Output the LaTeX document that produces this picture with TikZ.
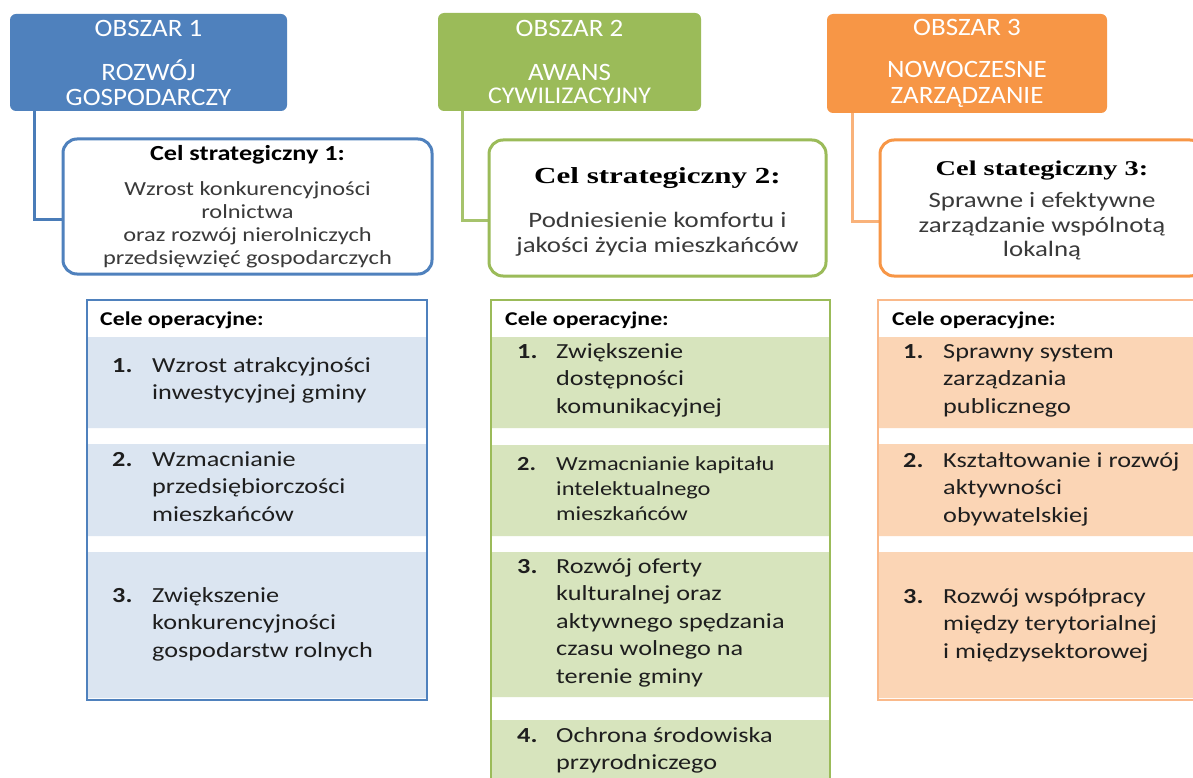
\documentclass[tikz,border=0pt]{standalone}
\usepackage{fontspec}
\setmainfont{Carlito}[FakeStretch=1.22]
\newfontfamily\hdrfont{Carlito}[FakeStretch=1.08]
\newfontfamily\serfont{Liberation Serif}[FakeStretch=1.35]
\definecolor{bl}{HTML}{4F81BD}
\definecolor{blconn}{HTML}{4A7CB8}
\definecolor{blband}{HTML}{DBE5F1}
\definecolor{gr}{HTML}{9BBB59}
\definecolor{grconn}{HTML}{A6C36C}
\definecolor{grband}{HTML}{D7E4BD}
\definecolor{or}{HTML}{F79646}
\definecolor{orconn}{HTML}{F9B27A}
\definecolor{orframe}{HTML}{FAB98A}
\definecolor{orband}{HTML}{FBD5B5}
\definecolor{bodytext}{HTML}{3A3A3A}
\definecolor{itemtext}{HTML}{1E1E1E}
\pgfdeclarelayer{bglayer}
\pgfdeclarelayer{bandlayer}
\pgfsetlayers{bglayer,bandlayer,main}
\tikzset{
  hdr/.style={rounded corners=6pt, inner sep=0pt, text=white, align=center,
    font=\hdrfont\fontsize{25}{25}\selectfont},
  strat/.style={draw, line width=3pt, rounded corners=14pt, fill=white, inner sep=0pt,
    align=center, text=bodytext},
  opframe/.style={draw, line width=1.6pt, inner sep=0pt},
  ophead/.style={anchor=base west, inner sep=0pt, text=black,
    font=\bfseries\fontsize{19.5}{24}\selectfont},
  item/.style={anchor=base west, inner sep=0pt, text=itemtext,
    font=\fontsize{21.5}{27.5}\selectfont},
  itemsm/.style={anchor=base west, inner sep=0pt, text=itemtext,
    font=\fontsize{20}{25}\selectfont},
  conn/.style={line width=3pt}
}
\newcommand{\opitem}[3]{\begin{tabular}[t]{@{}p{#1}@{}l@{}}\textbf{#2} & #3\end{tabular}}
\begin{document}
\begin{tikzpicture}[x=1pt,y=-1pt]
\useasboundingbox (0,0) rectangle (1193,778);
\clip (0,0) rectangle (1193,778);
\begin{pgfonlayer}{bglayer}
\fill[white] (0,0) rectangle (1193,778);
\end{pgfonlayer}

% header boxes
\node[hdr, fill=bl, minimum width=277pt, minimum height=97pt] (h1) at (148.5,62.5)
  {OBSZAR 1\\[19pt]ROZWÓJ\\GOSPODARCZY};
\node[hdr, fill=gr, minimum width=263pt, minimum height=98pt] (h2) at (569.5,62)
  {OBSZAR 2\\[19pt]AWANS\\[-1.5pt]{\fontsize{24}{24}\selectfont CYWILIZACYJNY}};
\node[hdr, fill=or, minimum width=280pt, minimum height=99pt] (h3) at (967,63.5)
  {OBSZAR 3\\[17pt]NOWOCZESNE\\[1pt]ZARZĄDZANIE};

% strategic boxes
\node[strat, draw=bl, minimum width=369pt, minimum height=135pt,
  font=\fontsize{20}{23}\selectfont] (s1) at (247.5,206.5)
  {{\color{black}\bfseries\fontsize{21.5}{22}\selectfont Cel strategiczny 1:}\\[12pt]
   Wzrost konkurencyjności\\rolnictwa\\oraz rozwój nierolniczych\\przedsięwzięć gospodarczych};
\node[strat, draw=gr, minimum width=337pt, minimum height=136pt,
  font=\fontsize{22}{25}\selectfont] (s2) at (657.5,208)
  {{\color{black}\serfont\bfseries\fontsize{23}{23}\selectfont\rule{0pt}{24pt}Cel strategiczny 2:}\\[19pt]
   Podniesienie komfortu i\\jakości życia mieszkańców};
\node[strat, draw=or, minimum width=324pt, minimum height=136pt,
  font=\fontsize{22}{24.5}\selectfont] (s3) at (1042,208)
  {{\color{black}\serfont\bfseries\fontsize{21}{21}\selectfont\rule{0pt}{20pt}Cel stategiczny 3:}\\[7.5pt]
   Sprawne i efektywne\\zarządzanie wspólnotą\\lokalną};

% connectors (behind the boxes)
\begin{pgfonlayer}{bandlayer}
\draw[conn, draw=blconn] ([xshift=25pt]h1.south west) |- ([yshift=-12.5pt]s1.west);
\draw[conn, draw=grconn] ([xshift=25pt]h2.south west) |- ([yshift=-12pt]s2.west);
\draw[conn, draw=orconn] ([xshift=26pt]h3.south west) |- ([yshift=-13pt]s3.west);
\end{pgfonlayer}

% operational frames
\node[opframe, draw=bl, minimum width=340pt, minimum height=400pt] (o1) at (257,500) {};
\node[opframe, draw=gr, minimum width=339pt, minimum height=500pt] (o2) at (660.5,550) {};
\node[opframe, draw=orframe, minimum width=332pt, minimum height=400pt] (o3) at (1044,500) {};

% operational bands (inside the frames)
\begin{pgfonlayer}{bandlayer}
\fill[blband] (88,337) rectangle (426,428) (88,444) rectangle (426,536) (88,552) rectangle (426,698);
\fill[grband] (492,337) rectangle (829,428) (492,445) rectangle (829,536) (492,552) rectangle (829,697) (492,720) rectangle (829,800);
\fill[orband] (879,337) rectangle (1210,428) (879,444) rectangle (1210,536) (879,552) rectangle (1210,698);
\end{pgfonlayer}

% headings
\node[ophead] (o1h) at (100,325) {Cele operacyjne:};
\node[ophead] (o2h) at (505,325) {Cele operacyjne:};
\node[ophead] (o3h) at (892,325) {Cele operacyjne:};

% items blue
\node[item] (b1) at (112,372) {\opitem{40pt}{1.}{Wzrost atrakcyjności\\ & inwestycyjnej gminy}};
\node[item] (b2) at (112,466) {\opitem{40pt}{2.}{Wzmacnianie\\ & przedsiębiorczości\\ & mieszkańców}};
\node[item] (b3) at (112,602) {\opitem{40pt}{3.}{Zwiększenie\\ & konkurencyjności\\ & gospodarstw rolnych}};

% items green
\node[item] (g1) at (517,358) {\opitem{39pt}{1.}{Zwiększenie\\ & dostępności\\ & komunikacyjnej}};
\node[itemsm] (g2) at (517,470) {\opitem{39pt}{2.}{Wzmacnianie kapitału\\ & intelektualnego\\ & mieszkańców}};
\node[item] (g3) at (517,573) {\opitem{39pt}{3.}{Rozwój oferty\\ & kulturalnej oraz\\ & aktywnego spędzania\\ & czasu wolnego na\\ & terenie gminy}};
\node[item] (g4) at (517,742) {\opitem{39pt}{4.}{Ochrona środowiska\\ & przyrodniczego}};

% items orange
\node[item] (r1) at (903,358) {\opitem{40pt}{1.}{Sprawny system\\ & zarządzania\\ & publicznego}};
\node[item] (r2) at (903,467) {\opitem{40pt}{2.}{Kształtowanie i rozwój\\ & aktywności\\ & obywatelskiej}};
\node[item] (r3) at (903,603) {\opitem{40pt}{3.}{Rozwój współpracy\\ & między terytorialnej\\ & i międzysektorowej}};
\end{tikzpicture}
\end{document}
